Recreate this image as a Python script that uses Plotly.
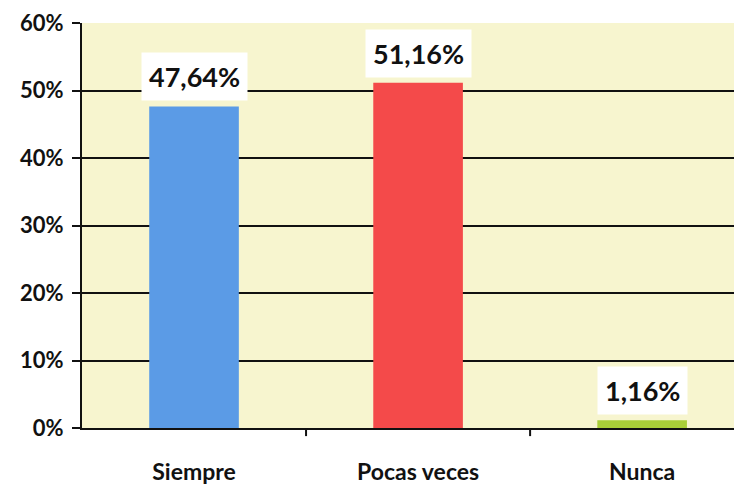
import plotly.graph_objects as go

categories = ["Siempre", "Pocas veces", "Nunca"]
values = [47.64, 51.16, 1.16]
value_labels = ["47,64%", "51,16%", "1,16%"]
bar_colors = ["#5b9be6", "#f44a4a", "#a9cf38"]
tick_vals = [0, 10, 20, 30, 40, 50, 60]
tick_text = ["0%", "10%", "20%", "30%", "40%", "50%", "60%"]

FONT = "Lato"

fig = go.Figure()
fig.add_trace(go.Bar(
    x=categories, y=values, marker=dict(color=bar_colors, line=dict(width=0)),
    width=0.4, showlegend=False, hoverinfo="skip",
))

for c, v, t in zip(categories, values, value_labels):
    fig.add_annotation(
        x=c, y=v, text="<b>%s</b>" % t, showarrow=False,
        yanchor="bottom", yshift=5, bgcolor="white", borderpad=7,
        font=dict(family=FONT, size=27, color="#111111"),
    )

# the figure is a little wider than the window so the plot area runs off the right edge
fig.update_layout(
    width=746, height=484,
    margin=dict(l=82, r=0, t=23, b=56),
    paper_bgcolor="white",
    plot_bgcolor="#f7f5cf",
    font=dict(family=FONT, color="#111111"),
    bargap=0.6,
)

fig.update_xaxes(
    range=[-0.5, 2.4636], automargin=False,
    showline=True, linecolor="#111111", linewidth=2,
    ticks="", showgrid=False,
    tickfont=dict(family=FONT, size=23, color="#111111"),
    ticklabelstandoff=22,
    tickprefix="<b>", ticksuffix="</b>",
)

fig.update_yaxes(
    range=[0, 60], automargin=False,
    tickvals=tick_vals, ticktext=["<b>%s</b>" % t for t in tick_text],
    showline=True, linecolor="#111111", linewidth=2,
    ticks="outside", ticklen=8, tickwidth=2, tickcolor="#111111",
    showgrid=True, gridcolor="#111111", gridwidth=1.5,
    zeroline=False,
    tickfont=dict(family=FONT, size=22, color="#111111"),
    ticklabelstandoff=4,
)

for xb in [0.5, 1.5]:
    fig.add_shape(type="line", xref="x", yref="paper", x0=xb, x1=xb, y0=0, y1=-0.02,
                  line=dict(color="#111111", width=2))

fig.write_html(
    "out.html",
    config={"displayModeBar": False},
    post_script="document.body.style.margin='0';document.body.style.overflow='hidden';document.documentElement.style.overflow='hidden';",
)
